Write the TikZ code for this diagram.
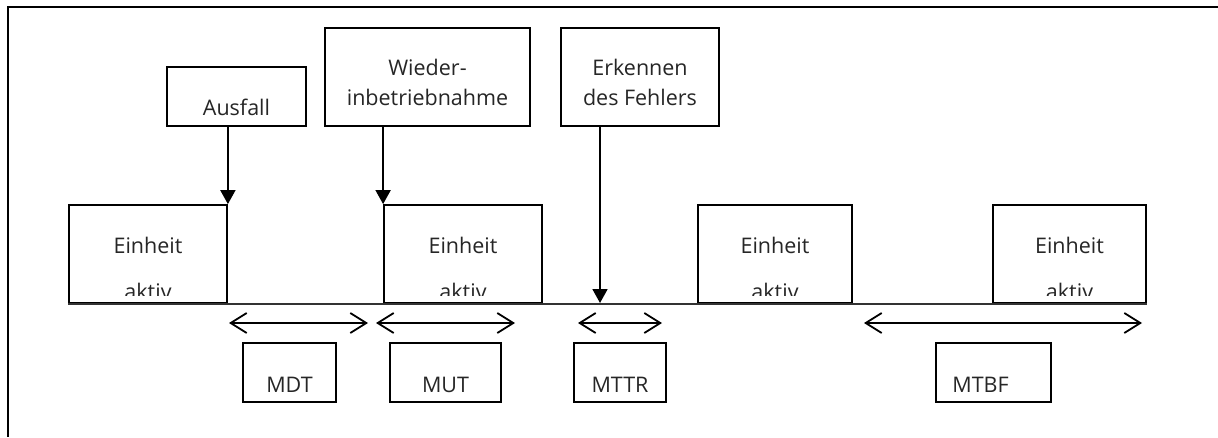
\documentclass[tikz,border=0pt]{standalone}
\usepackage{fontspec}
\setmainfont{Open Sans}
\usetikzlibrary{arrows.meta}
\begin{document}
\begin{tikzpicture}[x=1pt,y=-1pt,
  box/.style={draw, line width=1.8pt, inner sep=0pt, minimum height=98pt},
  smallbox/.style={box, minimum height=59pt},
  txt/.style={font=\fontsize{21.5}{30}\selectfont, inner sep=0pt, anchor=base, text=black!85},
  event/.style={line width=1.8pt, -{Triangle[length=14pt,width=15pt]}},
  span/.style={line width=1.8pt, {Straight Barb[length=16pt,width=20pt]}-{Straight Barb[length=16pt,width=20pt]}},
  axis/.style={line width=1.5pt, draw=black!80},
  frame/.style={line width=2.2pt}]
\useasboundingbox (0,0) rectangle (1218,437);

% open frame (top and left edges)
\coordinate (frTR) at (1218,7);
\coordinate (frTL) at (8,7);
\coordinate (frBL) at (8,437);
\draw[frame] (frTR) -- (frTL) -- (frBL);

% event boxes
\node[smallbox, minimum width=139pt] (ausfall) at (236.5,96.5) {};
\node[box, minimum width=205pt] (wieder) at (427.5,77) {};
\node[box, minimum width=158pt] (erkennen) at (640,77) {};
\node[txt] (tAusfall) at (236.5,115) {Ausfall};
\node[txt] (tWieder1) at (427.5,75) {Wieder-};
\node[txt] (tWieder2) at (427.5,105) {inbetriebnahme};
\node[txt] (tErk1) at (640,75) {Erkennen};
\node[txt] (tErk2) at (640,105) {des Fehlers};

% active periods
\node[box, minimum width=158pt] (e1) at (148,254) {};
\node[box, minimum width=158pt] (e2) at (463,254) {};
\node[box, minimum width=154pt] (e3) at (775,254) {};
\node[box, minimum width=153pt] (e4) at (1069.5,254) {};
\foreach \e in {e1,e2,e3,e4}{
  \node[txt] (\e top) at ([yshift=1pt]\e.center) {Einheit};
  \begin{scope}
    \clip (\e.north west) rectangle ([yshift=8pt]\e.south east);
    \node[txt] (\e bot) at ([yshift=-45pt]\e.center) {aktiv};
  \end{scope}
}

% time axis
\draw[axis] (e1.south west) -- (e4.south east);

% event arrows
\coordinate (hit) at (600,303);
\draw[event] (ausfall.south -| e1.east) -- (e1.north east);
\draw[event] (wieder.south -| e2.west) -- (e2.north west);
\draw[event] (erkennen.south -| hit) -- (hit);

% interval arrows
\coordinate (mdtL) at (229,323);  \coordinate (mdtR) at (368,323);
\coordinate (mutL) at (376,323);  \coordinate (mutR) at (515,323);
\coordinate (mttrL) at (578,323); \coordinate (mttrR) at (662,323);
\coordinate (mtbfL) at (864,323); \coordinate (mtbfR) at (1142,323);
\draw[span] (mdtL) -- (mdtR);
\draw[span] (mutL) -- (mutR);
\draw[span] (mttrL) -- (mttrR);
\draw[span] (mtbfL) -- (mtbfR);

% interval labels
\node[smallbox, minimum width=93pt] (mdt) at (289.5,372.5) {};
\node[smallbox, minimum width=111pt] (mut) at (445.5,372.5) {};
\node[smallbox, minimum width=92pt] (mttr) at (620,372.5) {};
\node[smallbox, minimum width=115pt] (mtbf) at (993.5,372.5) {};
\node[txt] (tMDT) at (289.5,392) {MDT};
\node[txt] (tMUT) at (445.5,392) {MUT};
\node[txt] (tMTTR) at (620,392) {MTTR};
\node[txt] (tMTBF) at (980.5,392) {MTBF};
\end{tikzpicture}
\end{document}
